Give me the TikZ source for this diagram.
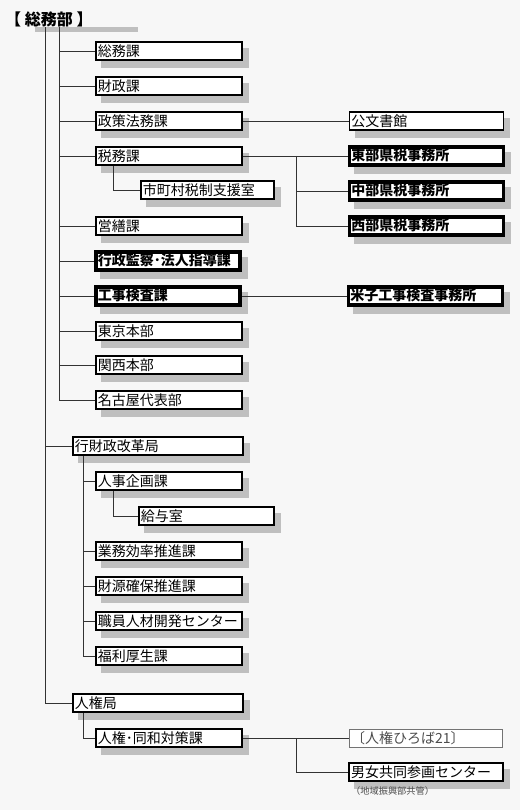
\documentclass[tikz,border=0pt]{standalone}
\usepackage{fontspec}
\setmainfont{Noto Sans CJK JP}
\usetikzlibrary{positioning, backgrounds, calc}

\begin{document}
\begin{tikzpicture}[
	x=1pt, y=-1pt,
	font=\fontsize{14}{15}\selectfont,
	% Define styles for the boxes
	unit_box/.style={
		draw=black,
		fill=white,
		line width=1.5pt,
		anchor=west,
		minimum height=18pt,
		inner xsep=2pt,
		inner ysep=0pt,
		text width=#1,
		align=left
	},
	unit_box/.default=142pt,
	key_box/.style={
		unit_box=#1,
		line width=3.5pt,
		font=\fontsize{14}{15}\selectfont\bfseries
	},
	key_box/.default=150pt,
	plain_box/.style={
		draw=black!55,
		fill=white,
		line width=1pt,
		anchor=west,
		minimum height=18pt,
		inner xsep=2pt,
		inner ysep=0pt,
		text width=#1,
		align=left,
		text=black!70
	},
	shadow_fill/.style={
		fill=black!25
	},
	title_text/.style={
		font=\fontsize{16}{18}\selectfont\bfseries
	},
	note_text/.style={
		font=\fontsize{9.2}{10}\selectfont,
		text=black!70
	},
	link/.style={
		draw=black!80,
		line width=0.9pt
	}
	]
	
	% --- 0. CANVAS ---
	\begin{scope}[on background layer]
		\fill[white!97!black] (0,0) rectangle (520,810);
	\end{scope}
	\useasboundingbox (0,0) rectangle (520,810);
	
	% --- 1. HEAD ---
	\node[title_text, anchor=west, inner sep=0pt] (title) at (5,19) {【 総務部 】};
	\node[shadow_fill, minimum width=103pt, minimum height=5pt, inner sep=0pt] (title_bar) at (86.5,29.5) {};
	\coordinate (trunk_outer) at (45,27);
	\coordinate (trunk_inner) at (59,27);
	
	% --- 2. SECTIONS OF THE DEPARTMENT ---
	\node[unit_box] (somu) at (95,51) {総務課};
	\node[unit_box] (zaisei) at (95,86) {財政課};
	\node[unit_box] (seisaku) at (95,121) {政策法務課};
	\node[unit_box] (zeimu) at (95,156) {税務課};
	\node[unit_box=129pt] (shichoson) at (140,190) {市町村税制支援室};
	\node[unit_box] (eizen) at (95,226) {営繕課};
	\node[key_box=140pt] (kansa) at (94,261) {\underline{行政監察･法人指導課}};
	\node[key_box=140pt] (koji) at (94,296) {\underline{工事検査課}};
	\node[unit_box] (tokyo) at (95,331) {東京本部};
	\node[unit_box] (kansai) at (95,365) {関西本部};
	\node[unit_box] (nagoya) at (95,400) {名古屋代表部};
	
	\draw[link] (trunk_inner) |- (nagoya.west);
	\draw[link] (trunk_inner |- somu.west) -- (somu.west);
	\draw[link] (trunk_inner |- zaisei.west) -- (zaisei.west);
	\draw[link] (trunk_inner |- seisaku.west) -- (seisaku.west);
	\draw[link] (trunk_inner |- zeimu.west) -- (zeimu.west);
	\draw[link] (trunk_inner |- eizen.west) -- (eizen.west);
	\draw[link] (trunk_inner |- kansa.west) -- (kansa.west);
	\draw[link] (trunk_inner |- koji.west) -- (koji.west);
	\draw[link] (trunk_inner |- tokyo.west) -- (tokyo.west);
	\draw[link] (trunk_inner |- kansai.west) -- (kansai.west);
	\draw[link] (zeimu.south -| 113,0) |- (shichoson.west);
	
	% --- 3. OUTSIDE OFFICES ---
	\node[unit_box=150pt, right=106pt of seisaku] (kobunsho) {公文書館};
	\node[key_box, right=105pt of zeimu] (tobu) {\underline{東部県税事務所}};
	\node[key_box, below=13.5pt of tobu] (chubu) {\underline{中部県税事務所}};
	\node[key_box, below=13.5pt of chubu] (seibu) {\underline{西部県税事務所}};
	\node[key_box, right=105pt of koji] (yonago) {\underline{米子工事検査事務所}};
	
	\draw[link] (seisaku.east) -- (kobunsho.west);
	\draw[link] (zeimu.east) -- (tobu.west);
	\coordinate (tax_split) at (296,156);
	\draw[link] (tax_split) |- (seibu.west);
	\draw[link] (tax_split |- chubu.west) -- (chubu.west);
	\draw[link] (koji.east) -- (yonago.west);
	
	% --- 4. ADMINISTRATIVE REFORM BUREAU ---
	\node[unit_box=166pt] (gyozaisei) at (72,446) {行財政改革局};
	\node[unit_box] (jinji) at (95,481) {人事企画課};
	\node[unit_box=131pt] (kyuyo) at (138,516) {給与室};
	\node[unit_box] (gyomu) at (95,551) {業務効率推進課};
	\node[unit_box] (zaigen) at (95,586) {財源確保推進課};
	\node[unit_box] (shokuin) at (95,621) {職員人材開発センター};
	\node[unit_box] (fukuri) at (95,656) {福利厚生課};
	
	\draw[link] (trunk_outer |- gyozaisei.west) -- (gyozaisei.west);
	\draw[link] (gyozaisei.south -| 83,0) |- (fukuri.west);
	\draw[link] (83,0 |- jinji.west) -- (jinji.west);
	\draw[link] (83,0 |- gyomu.west) -- (gyomu.west);
	\draw[link] (83,0 |- zaigen.west) -- (zaigen.west);
	\draw[link] (83,0 |- shokuin.west) -- (shokuin.west);
	\draw[link] (jinji.south -| 113,0) |- (kyuyo.west);
	
	% --- 5. HUMAN RIGHTS BUREAU ---
	\node[unit_box=166pt] (jinken) at (72,703) {人権局};
	\node[unit_box] (dowa) at (95,738) {人権･同和対策課};
	\node[plain_box=149pt, right=106pt of dowa] (hiroba) {〔人権ひろば21〕};
	\node[unit_box=150pt, line width=2pt] (danjo) at (348,772) {男女共同参画センター};
	\node[note_text, anchor=west, inner sep=0pt] (danjo_note) at (351,791) {（地域振興部共管）};
	
	\draw[link] (trunk_outer) |- (jinken.west);
	\draw[link] (jinken.south -| 83,0) |- (dowa.west);
	\draw[link] (dowa.east) -- (hiroba.west);
	\draw[link] (dowa.east -| 296,0) |- (danjo.west);
	
	% --- 6. SHADOWS ---
	\begin{scope}[on background layer]
		\foreach \n in {somu, zaisei, seisaku, zeimu, shichoson, eizen, kansa, koji, tokyo, kansai, nagoya,
			kobunsho, tobu, chubu, seibu, yonago,
			gyozaisei, jinji, kyuyo, gyomu, zaigen, shokuin, fukuri,
			jinken, dowa, danjo}
		\fill[shadow_fill] ([xshift=6pt, yshift=-7pt]\n.north west) rectangle ([xshift=6pt, yshift=-7pt]\n.south east);
	\end{scope}
	
\end{tikzpicture}
\end{document}
